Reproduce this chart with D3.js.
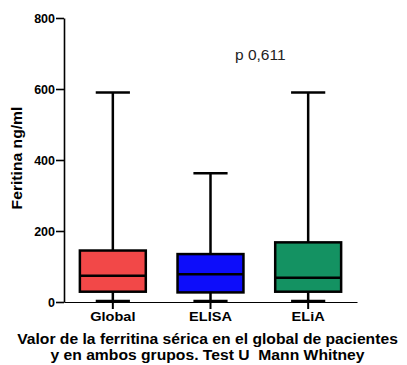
<!DOCTYPE html>
<html>
<head>
<meta charset="utf-8">
<script src="https://cdn.jsdelivr.net/npm/d3@7"></script>
<style>
  body { margin: 0; background: #fff; }
  text { font-family: "Liberation Sans", Arial, sans-serif; }
</style>
</head>
<body>
<svg id="chart" width="407" height="365"></svg>
<script>
var groups = ["Global", "ELISA", "ELiA"]
var whiskerLow = [3, 3, 3]
var q1 = [29, 27, 29]
var median = [74, 78, 68]
var q3 = [145, 135, 168]
var whiskerHigh = [590, 363, 590]
var boxColors = ["#f24848", "#0d0dfa", "#149262"]
var yTicks = [0, 200, 400, 600, 800]

var margin = {top: 18, right: 50, bottom: 63, left: 64},
    width = 407 - margin.left - margin.right,
    height = 365 - margin.top - margin.bottom;

var svg = d3.select("#chart")
  .append("g")
  .attr("transform", "translate(" + margin.left + "," + margin.top + ")");

var x = d3.scaleBand()
  .domain(groups)
  .range([0, width]);

var y = d3.scaleLinear()
  .domain([0, 800])
  .range([height, 0]);

var boxW = x.bandwidth() * 0.675,
    capW = x.bandwidth() * 0.35;

var data = groups.map(function(g, i) {
  return {name: g, lo: whiskerLow[i], q1: q1[i], med: median[i], q3: q3[i], hi: whiskerHigh[i], color: boxColors[i]};
});

// axes
var yAxis = d3.axisLeft(y).tickValues(yTicks).tickSize(8).tickPadding(1).tickSizeOuter(0);
var gy = svg.append("g").attr("class", "y axis").call(yAxis);
gy.select(".domain").attr("stroke-width", 1.6);
gy.selectAll(".tick line").attr("stroke-width", 1.6);
gy.selectAll(".tick text").style("font-size", "12.5px").style("font-weight", "bold").attr("fill", "#000");

var xAxis = d3.axisBottom(x).tickSize(7).tickPadding(3).tickSizeOuter(0);
var gx = svg.append("g").attr("class", "x axis")
  .attr("transform", "translate(0," + height + ")")
  .call(xAxis);
gx.select(".domain").attr("stroke-width", 1.2);
gx.selectAll(".tick line").attr("stroke-width", 2);
gx.selectAll(".tick text")
  .style("font-size", "13px").style("font-weight", "bold").attr("fill", "#000")
  .attr("transform", "scale(1.12,1)");

// boxes
var box = svg.selectAll(".box")
  .data(data)
  .enter().append("g")
  .attr("class", "box")
  .attr("transform", function(d) { return "translate(" + (x(d.name) + x.bandwidth() / 2) + ",0)"; });

box.append("line")
  .attr("x1", 0).attr("x2", 0)
  .attr("y1", function(d) { return y(d.hi); })
  .attr("y2", function(d) { return y(d.lo); })
  .attr("stroke", "#000").attr("stroke-width", 2.5);

box.append("line")
  .attr("x1", -capW / 2).attr("x2", capW / 2)
  .attr("y1", function(d) { return y(d.hi); })
  .attr("y2", function(d) { return y(d.hi); })
  .attr("stroke", "#000").attr("stroke-width", 2.5);

box.append("line")
  .attr("x1", -capW / 2).attr("x2", capW / 2)
  .attr("y1", function(d) { return y(d.lo); })
  .attr("y2", function(d) { return y(d.lo); })
  .attr("stroke", "#000").attr("stroke-width", 2.5);

box.append("rect")
  .attr("x", -boxW / 2)
  .attr("width", boxW)
  .attr("y", function(d) { return y(d.q3); })
  .attr("height", function(d) { return y(d.q1) - y(d.q3); })
  .attr("fill", function(d) { return d.color; })
  .attr("stroke", "#000").attr("stroke-width", 2.5);

box.append("line")
  .attr("x1", -boxW / 2).attr("x2", boxW / 2)
  .attr("y1", function(d) { return y(d.med); })
  .attr("y2", function(d) { return y(d.med); })
  .attr("stroke", "#000").attr("stroke-width", 2.5);

// labels
svg.append("text")
  .attr("transform", "translate(" + (-42) + "," + (height / 2 - 2) + ") rotate(-90) scale(1.12,1)")
  .attr("text-anchor", "middle")
  .style("font-size", "14px").style("font-weight", "bold")
  .text("Feritina ng/ml");

svg.append("text")
  .attr("x", 171).attr("y", 42)
  .style("font-size", "15.5px")
  .attr("fill", "#222")
  .text("p 0,611");

var caption = ["Valor de la ferritina sérica en el global de pacientes", "y en ambos grupos. Test U  Mann Whitney"];
svg.selectAll(".caption")
  .data(caption)
  .enter().append("text")
  .attr("class", "caption")
  .attr("transform", function(d, i) { return "translate(143.5," + (height + 42 + i * 16) + ") scale(1.12,1)"; })
  .attr("text-anchor", "middle")
  .attr("xml:space", "preserve")
  .style("font-size", "14px").style("font-weight", "bold")
  .text(function(d) { return d; });
</script>
</body>
</html>
